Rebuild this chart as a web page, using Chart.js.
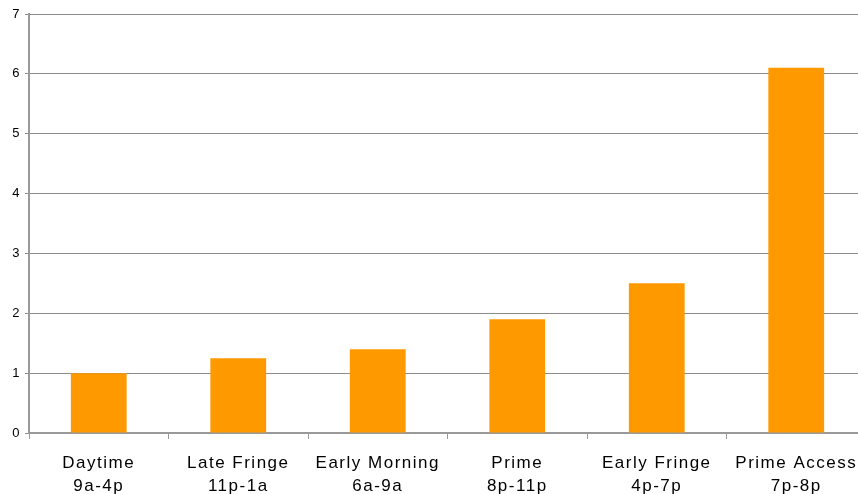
<!DOCTYPE html>
<html>
<head>
<meta charset="utf-8">
<script src="https://cdn.jsdelivr.net/npm/chart.js@4/dist/chart.umd.min.js"></script>
<style>
  html, body { margin: 0; padding: 0; background: #fff; overflow: hidden; }
  #wrap { position: relative; width: 866px; height: 494px; }
</style>
</head>
<body>
<div id="wrap"><canvas id="c" width="866" height="494"></canvas></div>
<script>
// Daypart categories, each with its time window on a second line
const dayparts = ['Daytime', 'Late Fringe', 'Early Morning', 'Prime', 'Early Fringe', 'Prime Access'];
const timeWindows = ['9a-4p', '11p-1a', '6a-9a', '8p-11p', '4p-7p', '7p-8p'];
const indexValues = [1.0, 1.25, 1.4, 1.9, 2.5, 6.1];
const yTicks = [0, 1, 2, 3, 4, 5, 6, 7];

const labels = dayparts.map((d, i) => [d, timeWindows[i]]);

// Widen the spacing of axis label text
const spacingPlugin = {
  id: 'labelSpacing',
  beforeDraw(chart) { chart.ctx.letterSpacing = '1.5px'; }
};

new Chart(document.getElementById('c'), {
  type: 'bar',
  data: {
    labels: labels,
    datasets: [{
      data: indexValues,
      backgroundColor: '#FF9900',
      borderWidth: 0,
      barPercentage: 0.4,
      categoryPercentage: 1.0
    }]
  },
  options: {
    responsive: false,
    animation: false,
    devicePixelRatio: 1,
    layout: { padding: { top: 14, right: 0, left: 0, bottom: 0 } },
    plugins: { legend: { display: false }, tooltip: { enabled: false } },
    scales: {
      x: {
        afterFit: s => { s.height = 61; },
        grid: { drawOnChartArea: false, drawTicks: true, tickLength: 6, color: '#999', lineWidth: 1 },
        border: { color: '#999', width: 2 },
        ticks: {
          color: '#000',
          maxRotation: 0,
          autoSkip: false,
          padding: 12,
          font: { family: '"Liberation Sans", Arial, sans-serif', size: 17, lineHeight: 1.4 }
        }
      },
      y: {
        min: yTicks[0],
        max: yTicks[yTicks.length - 1],
        afterFit: s => { s.width = 29; },
        afterBuildTicks: s => { s.ticks = yTicks.map(v => ({ value: v })); },
        grid: { color: '#8c8c8c', lineWidth: 1, tickLength: 4, drawTicks: true },
        border: { color: '#999', width: 2 },
        ticks: {
          color: '#000',
          padding: 4,
          font: { family: '"Liberation Sans", Arial, sans-serif', size: 13 }
        }
      }
    }
  },
  plugins: [spacingPlugin]
});
</script>
</body>
</html>
